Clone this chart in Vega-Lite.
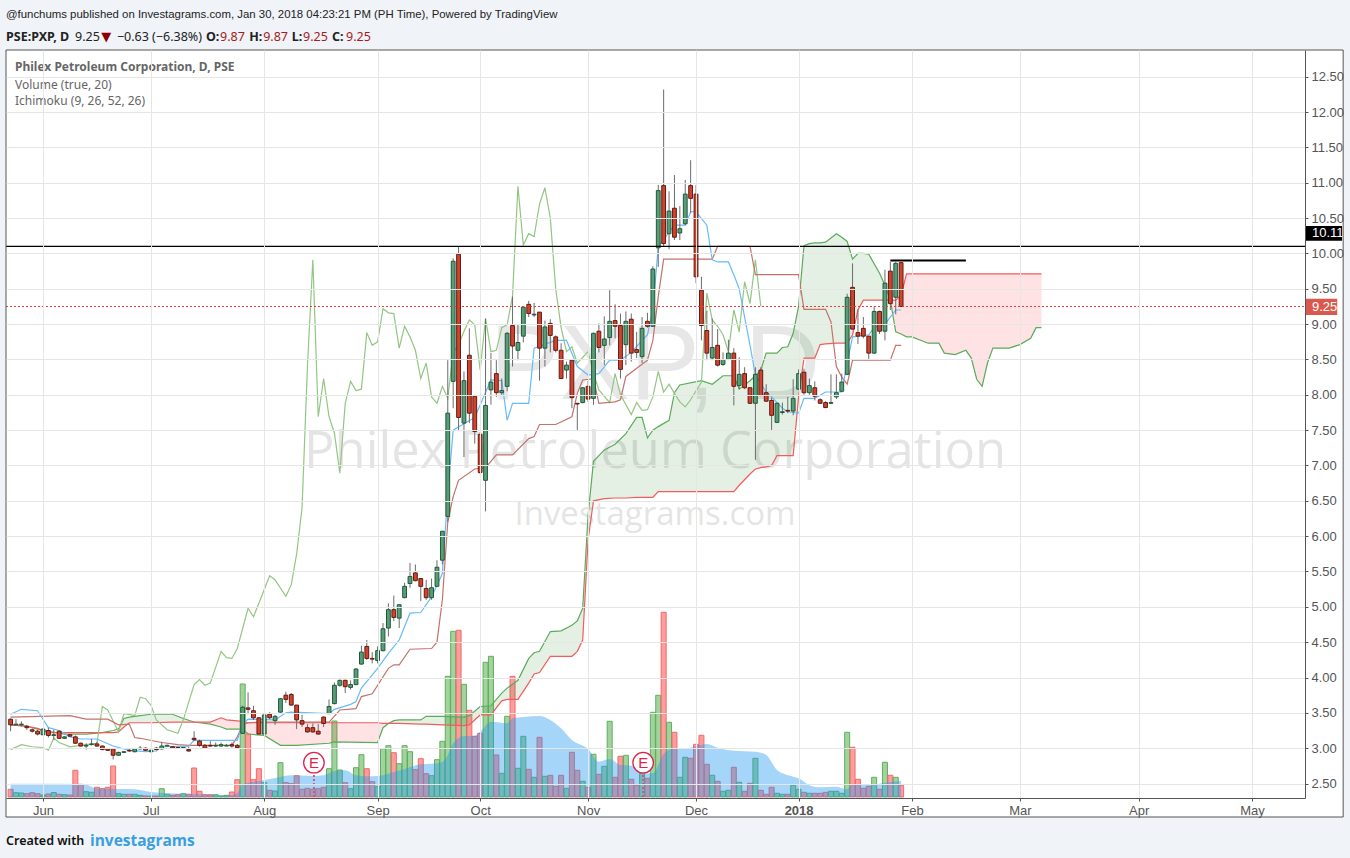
{"$schema":"https://vega.github.io/schema/vega-lite/v6.json","width":1299,"height":748,"autosize":"none","padding":{"left":6,"top":50,"right":45,"bottom":60},"background":"#f0f3f7","config":{"view":{"fill":"#ffffff","stroke":null},"font":"Liberation Sans"},
"datasets":{
"bars":[{"i":0,"o":3.41,"h":3.42,"l":3.24,"c":3.33,"v":7.7},{"i":1,"o":3.33,"h":3.41,"l":3.32,"c":3.34,"v":4.3},{"i":2,"o":3.33,"h":3.38,"l":3.31,"c":3.34,"v":4},{"i":3,"o":3.31,"h":3.33,"l":3.26,"c":3.29,"v":3.3},{"i":4,"o":3.26,"h":3.28,"l":3.22,"c":3.24,"v":4.3},{"i":5,"o":3.24,"h":3.26,"l":3.18,"c":3.2,"v":3.3},{"i":6,"o":3.19,"h":3.28,"l":3.19,"c":3.27,"v":2},{"i":7,"o":3.25,"h":3.29,"l":3.15,"c":3.18,"v":3},{"i":8,"o":3.18,"h":3.26,"l":3.12,"c":3.19,"v":4.5},{"i":9,"o":3.24,"h":3.25,"l":3.13,"c":3.14,"v":2.7},{"i":10,"o":3.14,"h":3.17,"l":3.13,"c":3.16,"v":2.3},{"i":11,"o":3.19,"h":3.2,"l":3.17,"c":3.17,"v":2},{"i":12,"o":3.16,"h":3.18,"l":3.06,"c":3.07,"v":26.7},{"i":13,"o":3.07,"h":3.08,"l":3.02,"c":3.03,"v":12.7},{"i":14,"o":3.03,"h":3.07,"l":2.98,"c":3.04,"v":5.3},{"i":15,"o":3.05,"h":3.13,"l":3.04,"c":3.06,"v":4.7},{"i":16,"o":3.06,"h":3.09,"l":3.02,"c":3.03,"v":9.7},{"i":17,"o":3.03,"h":3.04,"l":2.97,"c":2.98,"v":8.3},{"i":18,"o":2.99,"h":3,"l":2.96,"c":2.97,"v":9.7},{"i":19,"o":2.99,"h":3,"l":2.84,"c":2.9,"v":31},{"i":20,"o":2.9,"h":2.95,"l":2.89,"c":2.94,"v":3.3},{"i":21,"o":2.94,"h":2.96,"l":2.93,"c":2.95,"v":2.7},{"i":22,"o":2.97,"h":3,"l":2.95,"c":2.96,"v":2.7},{"i":23,"o":2.95,"h":3,"l":2.94,"c":2.99,"v":2.7},{"i":24,"o":2.99,"h":3.03,"l":2.98,"c":3,"v":1.7},{"i":25,"o":3,"h":3.01,"l":2.96,"c":2.97,"v":1},{"i":26,"o":2.95,"h":2.98,"l":2.94,"c":2.97,"v":1},{"i":27,"o":3,"h":3.02,"l":2.97,"c":2.98,"v":1},{"i":28,"o":2.99,"h":3.09,"l":2.98,"c":3.03,"v":8.3},{"i":29,"o":3.03,"h":3.05,"l":3.03,"c":3.04,"v":2.7},{"i":30,"o":3.02,"h":3.03,"l":3,"c":3,"v":1.7},{"i":31,"o":3.01,"h":3.02,"l":2.99,"c":3,"v":2.3},{"i":32,"o":3,"h":3.01,"l":2.99,"c":3.01,"v":3.3},{"i":33,"o":2.98,"h":3.02,"l":2.95,"c":2.96,"v":2.7},{"i":34,"o":3.14,"h":3.24,"l":3.1,"c":3.12,"v":29},{"i":35,"o":3.1,"h":3.12,"l":3.02,"c":3.04,"v":5.7},{"i":36,"o":3.04,"h":3.06,"l":3,"c":3,"v":2.3},{"i":37,"o":3.04,"h":3.1,"l":3.02,"c":3.03,"v":2.3},{"i":38,"o":3.03,"h":3.08,"l":3.02,"c":3.04,"v":2.3},{"i":39,"o":3.03,"h":3.08,"l":3.02,"c":3.05,"v":1},{"i":40,"o":3.03,"h":3.06,"l":3.03,"c":3.04,"v":1.7},{"i":41,"o":3.05,"h":3.08,"l":3.01,"c":3.03,"v":5},{"i":42,"o":3.04,"h":3.06,"l":3,"c":3.01,"v":17.3},{"i":43,"o":3.21,"h":3.6,"l":3.2,"c":3.58,"v":113},{"i":44,"o":3.57,"h":3.79,"l":3.48,"c":3.55,"v":63},{"i":45,"o":3.53,"h":3.6,"l":3.4,"c":3.43,"v":17.3},{"i":46,"o":3.43,"h":3.44,"l":3.2,"c":3.2,"v":28.3},{"i":47,"o":3.2,"h":3.49,"l":3.2,"c":3.47,"v":14.3},{"i":48,"o":3.48,"h":3.51,"l":3.41,"c":3.43,"v":6.7},{"i":49,"o":3.39,"h":3.47,"l":3.33,"c":3.45,"v":6},{"i":50,"o":3.51,"h":3.71,"l":3.5,"c":3.7,"v":34.3},{"i":51,"o":3.75,"h":3.8,"l":3.64,"c":3.69,"v":14.3},{"i":52,"o":3.76,"h":3.78,"l":3.6,"c":3.61,"v":13.3},{"i":53,"o":3.61,"h":3.61,"l":3.27,"c":3.4,"v":21.3},{"i":54,"o":3.39,"h":3.47,"l":3.3,"c":3.34,"v":7.7},{"i":55,"o":3.29,"h":3.34,"l":3.22,"c":3.23,"v":8.7},{"i":56,"o":3.29,"h":3.35,"l":3.22,"c":3.23,"v":7.7},{"i":57,"o":3.24,"h":3.34,"l":3.19,"c":3.2,"v":8.3},{"i":58,"o":3.44,"h":3.45,"l":3.3,"c":3.35,"v":9.7},{"i":59,"o":3.49,"h":3.69,"l":3.48,"c":3.59,"v":28.3},{"i":60,"o":3.63,"h":3.93,"l":3.62,"c":3.89,"v":76},{"i":61,"o":3.89,"h":3.97,"l":3.87,"c":3.96,"v":27},{"i":62,"o":3.96,"h":3.97,"l":3.78,"c":3.87,"v":14.3},{"i":63,"o":3.86,"h":3.96,"l":3.83,"c":3.9,"v":8.3},{"i":64,"o":3.9,"h":4.13,"l":3.89,"c":4.12,"v":29.3},{"i":65,"o":4.19,"h":4.45,"l":4.18,"c":4.36,"v":42.3},{"i":66,"o":4.44,"h":4.53,"l":4.25,"c":4.27,"v":28.3},{"i":67,"o":4.27,"h":4.36,"l":4.2,"c":4.26,"v":15.3},{"i":68,"o":4.24,"h":4.44,"l":4.2,"c":4.38,"v":10.3},{"i":69,"o":4.38,"h":4.77,"l":4.37,"c":4.69,"v":48.3},{"i":70,"o":4.7,"h":5.05,"l":4.58,"c":4.96,"v":51.3},{"i":71,"o":4.96,"h":5.16,"l":4.8,"c":4.85,"v":44.3},{"i":72,"o":4.84,"h":5.03,"l":4.7,"c":5.03,"v":33.3},{"i":73,"o":5.13,"h":5.34,"l":5.12,"c":5.29,"v":51.3},{"i":74,"o":5.33,"h":5.62,"l":5.27,"c":5.43,"v":45.3},{"i":75,"o":5.48,"h":5.6,"l":5.36,"c":5.37,"v":27.3},{"i":76,"o":5.4,"h":5.4,"l":5.08,"c":5.29,"v":38.3},{"i":77,"o":5.26,"h":5.38,"l":5.1,"c":5.13,"v":23.3},{"i":78,"o":5.13,"h":5.4,"l":5.1,"c":5.27,"v":21.3},{"i":79,"o":5.29,"h":5.66,"l":5.29,"c":5.56,"v":37.3},{"i":80,"o":5.66,"h":6.07,"l":5.6,"c":6.07,"v":55.7},{"i":81,"o":6.28,"h":8.49,"l":6.2,"c":7.74,"v":120.7},{"i":82,"o":8.19,"h":9.93,"l":7.81,"c":9.89,"v":165.7},{"i":83,"o":9.99,"h":10.1,"l":7.49,"c":7.68,"v":166.7},{"i":84,"o":7.6,"h":8.33,"l":7.12,"c":8.2,"v":112.7},{"i":85,"o":8.56,"h":8.94,"l":7.6,"c":7.74,"v":86.7},{"i":86,"o":7.98,"h":8,"l":7.31,"c":7.48,"v":60.7},{"i":87,"o":7.44,"h":7.47,"l":6.88,"c":6.9,"v":63.7},{"i":88,"o":6.79,"h":9.08,"l":6.35,"c":7.85,"v":134.7},{"i":89,"o":8.07,"h":8.59,"l":7.86,"c":8.18,"v":140.7},{"i":90,"o":8.3,"h":8.49,"l":7.97,"c":8.03,"v":42},{"i":91,"o":8.03,"h":8.23,"l":8,"c":8.06,"v":23.7},{"i":92,"o":8.12,"h":8.89,"l":8.05,"c":8.87,"v":80.7},{"i":93,"o":8.98,"h":9.39,"l":8.4,"c":8.69,"v":120.7},{"i":94,"o":8.63,"h":8.99,"l":8.49,"c":8.74,"v":28.7},{"i":95,"o":8.83,"h":9.24,"l":8.74,"c":9.24,"v":60.7},{"i":96,"o":9.28,"h":9.33,"l":9.1,"c":9.15,"v":27.7},{"i":97,"o":9.13,"h":9.3,"l":9.1,"c":9.14,"v":19.7},{"i":98,"o":9.17,"h":9.17,"l":8.2,"c":8.66,"v":59.7},{"i":99,"o":8.66,"h":9.05,"l":8.4,"c":8.96,"v":20.7},{"i":100,"o":9.01,"h":9.07,"l":8.6,"c":8.84,"v":21.7},{"i":101,"o":8.82,"h":8.84,"l":8.6,"c":8.63,"v":10.7},{"i":102,"o":8.63,"h":8.73,"l":8.23,"c":8.23,"v":21.7},{"i":103,"o":8.35,"h":8.47,"l":8.23,"c":8.42,"v":8.7},{"i":104,"o":8.49,"h":8.5,"l":7.81,"c":7.96,"v":44.7},{"i":105,"o":7.88,"h":7.88,"l":7.49,"c":7.87,"v":26.7},{"i":106,"o":7.89,"h":8.11,"l":7.88,"c":8.1,"v":15.7},{"i":107,"o":8.12,"h":8.2,"l":7.9,"c":7.94,"v":9.7},{"i":108,"o":7.95,"h":8.88,"l":7.86,"c":8.87,"v":42.7},{"i":109,"o":8.9,"h":9.01,"l":8.6,"c":8.67,"v":22.7},{"i":110,"o":8.7,"h":9.11,"l":8.42,"c":8.79,"v":30.7},{"i":111,"o":8.81,"h":9.48,"l":8.7,"c":9.04,"v":75.7},{"i":112,"o":9.05,"h":9.28,"l":8.8,"c":8.97,"v":19.7},{"i":113,"o":8.98,"h":9.15,"l":8.23,"c":8.36,"v":40.7},{"i":114,"o":8.71,"h":9.18,"l":8.42,"c":9.04,"v":41.7},{"i":115,"o":9.07,"h":9.15,"l":8.47,"c":8.59,"v":17.7},{"i":116,"o":8.64,"h":8.89,"l":8.52,"c":8.6,"v":11.7},{"i":117,"o":8.54,"h":9.1,"l":8.45,"c":8.94,"v":23.7},{"i":118,"o":9.04,"h":9.16,"l":8.95,"c":8.97,"v":18.7},{"i":119,"o":8.97,"h":9.82,"l":8.96,"c":9.78,"v":84.7},{"i":120,"o":10.08,"h":10.97,"l":9.81,"c":10.89,"v":101.7},{"i":121,"o":10.96,"h":12.32,"l":10.1,"c":10.14,"v":184.7},{"i":122,"o":10.28,"h":10.88,"l":10.06,"c":10.6,"v":74.7},{"i":123,"o":10.64,"h":11.11,"l":10.19,"c":10.23,"v":64.7},{"i":124,"o":10.29,"h":10.67,"l":10.19,"c":10.35,"v":19.7},{"i":125,"o":10.42,"h":11.04,"l":10.4,"c":10.84,"v":39.7},{"i":126,"o":10.96,"h":11.32,"l":10.57,"c":10.78,"v":38.7},{"i":127,"o":10.84,"h":10.97,"l":9.58,"c":9.67,"v":52.7},{"i":128,"o":9.48,"h":9.67,"l":8.77,"c":8.98,"v":61.7},{"i":129,"o":8.91,"h":9.19,"l":8.49,"c":8.59,"v":32.7},{"i":130,"o":8.52,"h":9.08,"l":8.49,"c":8.67,"v":21.7},{"i":131,"o":8.7,"h":8.93,"l":8.4,"c":8.42,"v":15.7},{"i":132,"o":8.43,"h":8.6,"l":8.41,"c":8.5,"v":5.7},{"i":133,"o":8.5,"h":8.78,"l":8.49,"c":8.59,"v":6.7},{"i":134,"o":8.59,"h":8.66,"l":7.85,"c":8.12,"v":29.7},{"i":135,"o":8.13,"h":8.53,"l":8.08,"c":8.29,"v":14.7},{"i":136,"o":8.3,"h":8.39,"l":8.08,"c":8.1,"v":5.7},{"i":137,"o":8.1,"h":8.1,"l":7.87,"c":7.88,"v":13.7},{"i":138,"o":7.88,"h":8.39,"l":7.08,"c":8.29,"v":38.7},{"i":139,"o":8.35,"h":8.39,"l":7.98,"c":7.99,"v":6.7},{"i":140,"o":8.03,"h":8.15,"l":7.9,"c":7.91,"v":2.7},{"i":141,"o":7.92,"h":7.96,"l":7.5,"c":7.71,"v":9.7},{"i":142,"o":7.61,"h":7.89,"l":7.6,"c":7.88,"v":3.7},{"i":143,"o":7.75,"h":7.89,"l":7.72,"c":7.76,"v":2.7},{"i":144,"o":7.78,"h":7.97,"l":7.74,"c":7.77,"v":2.7},{"i":145,"o":7.77,"h":8.22,"l":7.71,"c":7.95,"v":11.7},{"i":146,"o":8.08,"h":8.36,"l":8.07,"c":8.3,"v":7.7},{"i":147,"o":8.32,"h":8.37,"l":8,"c":8.03,"v":4.7},{"i":148,"o":8.03,"h":8.23,"l":8,"c":8.13,"v":3.7},{"i":149,"o":8.1,"h":8.19,"l":7.92,"c":7.98,"v":3.7},{"i":150,"o":7.93,"h":7.95,"l":7.87,"c":7.88,"v":3.7},{"i":151,"o":7.89,"h":7.91,"l":7.81,"c":7.82,"v":4.7},{"i":152,"o":7.88,"h":8.29,"l":7.87,"c":7.89,"v":5.7},{"i":153,"o":7.97,"h":8.29,"l":7.94,"c":8.03,"v":5.7},{"i":154,"o":8.05,"h":8.3,"l":8.04,"c":8.18,"v":3.7},{"i":155,"o":8.29,"h":9.43,"l":8.28,"c":9.38,"v":64.7},{"i":156,"o":9.52,"h":9.86,"l":8.92,"c":8.93,"v":49.7},{"i":157,"o":8.88,"h":9.21,"l":8.72,"c":8.83,"v":17.7},{"i":158,"o":8.94,"h":9.1,"l":8.8,"c":8.83,"v":8.7},{"i":159,"o":8.83,"h":8.83,"l":8.49,"c":8.59,"v":10.7},{"i":160,"o":8.59,"h":9.25,"l":8.58,"c":9.18,"v":19.7},{"i":161,"o":9.18,"h":9.19,"l":8.86,"c":8.9,"v":7.7},{"i":162,"o":8.9,"h":9.77,"l":8.77,"c":9.58,"v":34.7},{"i":163,"o":9.75,"h":9.88,"l":9.2,"c":9.29,"v":21.7},{"i":164,"o":9.38,"h":9.88,"l":9.14,"c":9.86,"v":19.7},{"i":165,"o":9.87,"h":9.87,"l":9.25,"c":9.25,"v":11.7}],
"ma":[{"i":0,"m":13.3},{"i":6,"m":13.3},{"i":13,"m":13},{"i":14,"m":12.5},{"i":16,"m":8.5},{"i":23,"m":7.7},{"i":26,"m":5},{"i":35,"m":2.7},{"i":40,"m":1.7},{"i":41,"m":2},{"i":42,"m":4},{"i":43,"m":12.7},{"i":46,"m":16},{"i":49,"m":19},{"i":52,"m":21.7},{"i":56,"m":21},{"i":58,"m":21.7},{"i":60,"m":26},{"i":62,"m":26.7},{"i":64,"m":21.7},{"i":66,"m":20.7},{"i":68,"m":21},{"i":71,"m":25},{"i":73,"m":28},{"i":76,"m":32.7},{"i":78,"m":33.3},{"i":80,"m":35},{"i":81,"m":42},{"i":82,"m":53.7},{"i":84,"m":61},{"i":86,"m":61.3},{"i":87,"m":65.3},{"i":89,"m":75.3},{"i":92,"m":73.7},{"i":93,"m":78.7},{"i":95,"m":80},{"i":98,"m":81},{"i":100,"m":77},{"i":102,"m":68.7},{"i":104,"m":57},{"i":107,"m":48},{"i":109,"m":35.3},{"i":111,"m":38},{"i":113,"m":32},{"i":115,"m":31.3},{"i":117,"m":23.7},{"i":119,"m":23.7},{"i":121,"m":43},{"i":123,"m":48.7},{"i":125,"m":48.7},{"i":129,"m":53},{"i":131,"m":49.3},{"i":134,"m":46.3},{"i":138,"m":45.3},{"i":140,"m":42},{"i":142,"m":27},{"i":145,"m":20.3},{"i":146,"m":18.7},{"i":148,"m":11.7},{"i":150,"m":9.7},{"i":153,"m":10.3},{"i":155,"m":7.7},{"i":156,"m":13},{"i":159,"m":12},{"i":162,"m":14.3},{"i":165,"m":16}],
"tenkan":[{"i":0,"p":3.48},{"i":2,"p":3.55},{"i":5,"p":3.53},{"i":6,"p":3.41},{"i":7,"p":3.29},{"i":9,"p":3.25},{"i":11,"p":3.16},{"i":13,"p":3.13},{"i":16,"p":3.13},{"i":19,"p":3.03},{"i":22,"p":2.97},{"i":25,"p":2.95},{"i":27,"p":2.96},{"i":28,"p":3.02},{"i":33,"p":3.03},{"i":34,"p":3.11},{"i":42,"p":3.11},{"i":43,"p":3.35},{"i":44,"p":3.41},{"i":49,"p":3.4},{"i":51,"p":3.5},{"i":52,"p":3.51},{"i":59,"p":3.49},{"i":60,"p":3.55},{"i":63,"p":3.62},{"i":64,"p":3.66},{"i":65,"p":3.85},{"i":68,"p":4.13},{"i":70,"p":4.34},{"i":72,"p":4.53},{"i":74,"p":4.91},{"i":76,"p":4.92},{"i":78,"p":5.14},{"i":80,"p":5.47},{"i":81,"p":6.6},{"i":82,"p":7.5},{"i":86,"p":7.68},{"i":89,"p":8.21},{"i":91,"p":8.2},{"i":92,"p":7.64},{"i":93,"p":7.88},{"i":96,"p":7.88},{"i":97,"p":8.66},{"i":101,"p":8.77},{"i":103,"p":8.77},{"i":105,"p":8.4},{"i":107,"p":8.28},{"i":109,"p":8.3},{"i":111,"p":8.49},{"i":113,"p":8.49},{"i":115,"p":8.6},{"i":118,"p":8.85},{"i":119,"p":9.2},{"i":120,"p":10.1},{"i":123,"p":10.4},{"i":125,"p":10.4},{"i":126,"p":10.59},{"i":127,"p":10.59},{"i":129,"p":10.4},{"i":130,"p":9.91},{"i":131,"p":9.88},{"i":133,"p":9.88},{"i":134,"p":9.7},{"i":135,"p":9.5},{"i":136,"p":9.1},{"i":137,"p":8.7},{"i":138,"p":8.28},{"i":140,"p":8.04},{"i":141,"p":7.97},{"i":143,"p":7.81},{"i":144,"p":7.76},{"i":146,"p":7.74},{"i":147,"p":7.95},{"i":149,"p":7.95},{"i":151,"p":8.04},{"i":154,"p":8.04},{"i":155,"p":8.45},{"i":156,"p":8.82},{"i":159,"p":8.85},{"i":160,"p":8.95},{"i":162,"p":9},{"i":164,"p":9.2},{"i":165,"p":9.2}],
"kijun":[{"i":0,"p":3.44},{"i":11,"p":3.46},{"i":14,"p":3.41},{"i":18,"p":3.41},{"i":20,"p":3.33},{"i":22,"p":3.34},{"i":23,"p":3.15},{"i":24,"p":3.14},{"i":28,"p":3.08},{"i":31,"p":3.05},{"i":33,"p":3.04},{"i":41,"p":3.04},{"i":42,"p":3.16},{"i":43,"p":3.33},{"i":44,"p":3.36},{"i":47,"p":3.37},{"i":59,"p":3.37},{"i":61,"p":3.54},{"i":64,"p":3.56},{"i":65,"p":3.73},{"i":67,"p":3.77},{"i":70,"p":4.13},{"i":71,"p":4.18},{"i":72,"p":4.18},{"i":74,"p":4.4},{"i":78,"p":4.41},{"i":79,"p":4.5},{"i":80,"p":5.1},{"i":81,"p":6.2},{"i":82,"p":6.56},{"i":83,"p":6.79},{"i":86,"p":6.95},{"i":88,"p":6.97},{"i":90,"p":7.15},{"i":93,"p":7.15},{"i":96,"p":7.38},{"i":97,"p":7.41},{"i":98,"p":7.58},{"i":101,"p":7.58},{"i":104,"p":7.69},{"i":105,"p":8.02},{"i":106,"p":8.21},{"i":108,"p":8.23},{"i":109,"p":7.88},{"i":112,"p":7.9},{"i":113,"p":7.93},{"i":114,"p":8.26},{"i":118,"p":8.49},{"i":119,"p":8.77},{"i":120,"p":9.39},{"i":121,"p":9.92},{"i":130,"p":9.92},{"i":131,"p":10.1},{"i":137,"p":10.1},{"i":138,"p":9.7},{"i":146,"p":9.7},{"i":147,"p":9.21},{"i":151,"p":9.21},{"i":152,"p":9.03},{"i":153,"p":8.4},{"i":154,"p":8.25},{"i":155,"p":8.15},{"i":156,"p":8.49},{"i":163,"p":8.49},{"i":164,"p":8.7},{"i":165,"p":8.7}],
"lagging":[{"i":0,"p":2.98},{"i":2,"p":3.05},{"i":4,"p":3.02},{"i":6,"p":3.01},{"i":7,"p":2.97},{"i":8,"p":3.14},{"i":9,"p":3.08},{"i":11,"p":3.02},{"i":14,"p":3.05},{"i":16,"p":3.07},{"i":17,"p":3.59},{"i":18,"p":3.54},{"i":20,"p":3.23},{"i":21,"p":3.49},{"i":23,"p":3.46},{"i":24,"p":3.72},{"i":25,"p":3.7},{"i":26,"p":3.61},{"i":27,"p":3.4},{"i":29,"p":3.26},{"i":31,"p":3.21},{"i":32,"p":3.4},{"i":34,"p":3.9},{"i":35,"p":3.97},{"i":36,"p":3.89},{"i":37,"p":3.92},{"i":39,"p":4.37},{"i":40,"p":4.28},{"i":41,"p":4.27},{"i":42,"p":4.41},{"i":44,"p":4.98},{"i":45,"p":4.86},{"i":46,"p":5.05},{"i":48,"p":5.44},{"i":49,"p":5.38},{"i":51,"p":5.15},{"i":52,"p":5.31},{"i":53,"p":5.75},{"i":54,"p":6.4},{"i":55,"p":8.4},{"i":56,"p":9.91},{"i":57,"p":7.69},{"i":58,"p":8.23},{"i":59,"p":7.69},{"i":60,"p":7.46},{"i":61,"p":6.89},{"i":62,"p":7.88},{"i":63,"p":8.19},{"i":64,"p":8.06},{"i":65,"p":8.08},{"i":66,"p":8.88},{"i":67,"p":8.7},{"i":68,"p":8.75},{"i":69,"p":9.22},{"i":70,"p":9.16},{"i":71,"p":9.15},{"i":72,"p":8.66},{"i":73,"p":8.97},{"i":74,"p":8.82},{"i":75,"p":8.63},{"i":76,"p":8.23},{"i":77,"p":8.45},{"i":78,"p":7.97},{"i":79,"p":7.88},{"i":80,"p":8.12},{"i":81,"p":7.95},{"i":82,"p":8.6},{"i":83,"p":8.71},{"i":84,"p":8.9},{"i":85,"p":9.06},{"i":86,"p":8.99},{"i":87,"p":8.35},{"i":88,"p":9.08},{"i":89,"p":8.61},{"i":90,"p":8.63},{"i":91,"p":8.95},{"i":92,"p":8.99},{"i":93,"p":9.4},{"i":94,"p":10.95},{"i":95,"p":10.12},{"i":96,"p":10.28},{"i":97,"p":10.24},{"i":98,"p":10.7},{"i":99,"p":10.93},{"i":100,"p":10.5},{"i":101,"p":9.5},{"i":102,"p":8.95},{"i":103,"p":8.61},{"i":104,"p":8.68},{"i":105,"p":8.45},{"i":107,"p":8.61},{"i":108,"p":8.3},{"i":109,"p":8.07},{"i":111,"p":7.89},{"i":112,"p":8.3},{"i":113,"p":8},{"i":115,"p":7.72},{"i":116,"p":7.89},{"i":117,"p":7.78},{"i":118,"p":7.79},{"i":119,"p":7.97},{"i":120,"p":8.33},{"i":121,"p":8.04},{"i":122,"p":8.15},{"i":123,"p":8.02},{"i":124,"p":7.9},{"i":125,"p":7.83},{"i":126,"p":7.93},{"i":128,"p":8.18},{"i":129,"p":9.44},{"i":130,"p":9.06},{"i":131,"p":8.97},{"i":132,"p":8.85},{"i":133,"p":8.61},{"i":134,"p":9.2},{"i":135,"p":8.89},{"i":136,"p":9.6},{"i":137,"p":9.29},{"i":138,"p":9.91},{"i":139,"p":9.25}],
"cloud":[{"i":0,"a":3.33,"b":3.33,"s":"f"},{"i":3,"a":3.31,"b":3.31,"s":"f"},{"i":5,"a":3.27,"b":3.28,"s":"f"},{"i":7,"a":3.24,"b":3.22,"s":"f"},{"i":10,"a":3.2,"b":3.22,"s":"f"},{"i":14,"a":3.2,"b":3.22,"s":"f"},{"i":17,"a":3.22,"b":3.22,"s":"f"},{"i":19,"a":3.25,"b":3.22,"s":"f"},{"i":20,"a":3.27,"b":3.23,"s":"u1"},{"i":21,"a":3.42,"b":3.3,"s":"u1"},{"i":22,"a":3.44,"b":3.36,"s":"u1"},{"i":23,"a":3.45,"b":3.36,"s":"u1"},{"i":26,"a":3.48,"b":3.36,"s":"u1"},{"i":30,"a":3.48,"b":3.37,"s":"u1"},{"i":32,"a":3.42,"b":3.37,"s":"u1"},{"i":34,"a":3.37,"b":3.37,"s":"u1"},{"i":34,"a":3.37,"b":3.37,"s":"d1"},{"i":37,"a":3.34,"b":3.37,"s":"d1"},{"i":39,"a":3.3,"b":3.43,"s":"d1"},{"i":40,"a":3.27,"b":3.4,"s":"d1"},{"i":43,"a":3.27,"b":3.38,"s":"d1"},{"i":44,"a":3.2,"b":3.36,"s":"d1"},{"i":47,"a":3.18,"b":3.36,"s":"d1"},{"i":50,"a":3.04,"b":3.36,"s":"d1"},{"i":53,"a":3.04,"b":3.36,"s":"d1"},{"i":59,"a":3.07,"b":3.36,"s":"d1"},{"i":60,"a":3.09,"b":3.36,"s":"d1"},{"i":68,"a":3.08,"b":3.36,"s":"d1"},{"i":69,"a":3.29,"b":3.35,"s":"d1"},{"i":70,"a":3.35,"b":3.35,"s":"d1"},{"i":70,"a":3.35,"b":3.35,"s":"u2"},{"i":71,"a":3.39,"b":3.35,"s":"u2"},{"i":72,"a":3.4,"b":3.35,"s":"u2"},{"i":76,"a":3.4,"b":3.34,"s":"u2"},{"i":77,"a":3.45,"b":3.34,"s":"u2"},{"i":80,"a":3.45,"b":3.33,"s":"u2"},{"i":84,"a":3.44,"b":3.32,"s":"u2"},{"i":85,"a":3.46,"b":3.33,"s":"u2"},{"i":87,"a":3.59,"b":3.47,"s":"u2"},{"i":89,"a":3.6,"b":3.47,"s":"u2"},{"i":91,"a":3.78,"b":3.67,"s":"u2"},{"i":92,"a":3.85,"b":3.69,"s":"u2"},{"i":94,"a":3.96,"b":3.69,"s":"u2"},{"i":96,"a":4.27,"b":3.92,"s":"u2"},{"i":97,"a":4.35,"b":4.05,"s":"u2"},{"i":98,"a":4.37,"b":4.07,"s":"u2"},{"i":100,"a":4.65,"b":4.3,"s":"u2"},{"i":102,"a":4.66,"b":4.3,"s":"u2"},{"i":104,"a":4.74,"b":4.3,"s":"u2"},{"i":105,"a":4.8,"b":4.37,"s":"u2"},{"i":106,"a":4.98,"b":4.53,"s":"u2"},{"i":107,"a":6.3,"b":5.95,"s":"u2"},{"i":108,"a":7.06,"b":6.5,"s":"u2"},{"i":110,"a":7.22,"b":6.53,"s":"u2"},{"i":112,"a":7.3,"b":6.54,"s":"u2"},{"i":114,"a":7.45,"b":6.54,"s":"u2"},{"i":116,"a":7.68,"b":6.55,"s":"u2"},{"i":117,"a":7.68,"b":6.55,"s":"u2"},{"i":118,"a":7.39,"b":6.55,"s":"u2"},{"i":119,"a":7.5,"b":6.55,"s":"u2"},{"i":120,"a":7.55,"b":6.63,"s":"u2"},{"i":122,"a":7.64,"b":6.63,"s":"u2"},{"i":123,"a":8.03,"b":6.63,"s":"u2"},{"i":124,"a":8.14,"b":6.63,"s":"u2"},{"i":128,"a":8.2,"b":6.63,"s":"u2"},{"i":130,"a":8.15,"b":6.63,"s":"u2"},{"i":132,"a":8.27,"b":6.63,"s":"u2"},{"i":134,"a":8.27,"b":6.63,"s":"u2"},{"i":135,"a":8.08,"b":6.72,"s":"u2"},{"i":137,"a":8.2,"b":6.88,"s":"u2"},{"i":138,"a":8.27,"b":6.95,"s":"u2"},{"i":139,"a":8.35,"b":6.97,"s":"u2"},{"i":140,"a":8.59,"b":6.98,"s":"u2"},{"i":141,"a":8.59,"b":7,"s":"u2"},{"i":142,"a":8.59,"b":7.14,"s":"u2"},{"i":143,"a":8.67,"b":7.14,"s":"u2"},{"i":144,"a":8.68,"b":7.14,"s":"u2"},{"i":145,"a":8.87,"b":7.14,"s":"u2"},{"i":146,"a":9.25,"b":7.97,"s":"u2"},{"i":147,"a":10.11,"b":8.52,"s":"u2"},{"i":148,"a":10.14,"b":8.52,"s":"u2"},{"i":149,"a":10.15,"b":8.52,"s":"u2"},{"i":150,"a":10.15,"b":8.71,"s":"u2"},{"i":151,"a":10.16,"b":8.72,"s":"u2"},{"i":153,"a":10.28,"b":8.73,"s":"u2"},{"i":154,"a":10.23,"b":8.73,"s":"u2"},{"i":155,"a":10.17,"b":8.73,"s":"u2"},{"i":156,"a":9.92,"b":8.85,"s":"u2"},{"i":157,"a":10,"b":9.2,"s":"u2"},{"i":158,"a":10,"b":9.34,"s":"u2"},{"i":159,"a":9.99,"b":9.34,"s":"u2"},{"i":161,"a":9.72,"b":9.34,"s":"u2"},{"i":162,"a":9.55,"b":9.34,"s":"u2"},{"i":163,"a":9.34,"b":9.34,"s":"u2"},{"i":163,"a":9.34,"b":9.34,"s":"d2"},{"i":164,"a":8.89,"b":9.34,"s":"d2"},{"i":165,"a":8.86,"b":9.41,"s":"d2"},{"i":166,"a":8.82,"b":9.71,"s":"d2"},{"i":167,"a":8.82,"b":9.71,"s":"d2"},{"i":170,"a":8.73,"b":9.71,"s":"d2"},{"i":172,"a":8.73,"b":9.71,"s":"d2"},{"i":173,"a":8.59,"b":9.71,"s":"d2"},{"i":175,"a":8.57,"b":9.71,"s":"d2"},{"i":177,"a":8.63,"b":9.71,"s":"d2"},{"i":178,"a":8.52,"b":9.71,"s":"d2"},{"i":179,"a":8.22,"b":9.71,"s":"d2"},{"i":180,"a":8.12,"b":9.71,"s":"d2"},{"i":181,"a":8.45,"b":9.71,"s":"d2"},{"i":182,"a":8.66,"b":9.71,"s":"d2"},{"i":185,"a":8.66,"b":9.71,"s":"d2"},{"i":187,"a":8.71,"b":9.71,"s":"d2"},{"i":189,"a":8.8,"b":9.71,"s":"d2"},{"i":190,"a":8.95,"b":9.71,"s":"d2"},{"i":191,"a":8.95,"b":9.71,"s":"d2"}],
"labels":[{"k":"head","t":"@funchums published on Investagrams.com, Jan 30, 2018 04:23:21 PM (PH Time), Powered by TradingView","i":-0.85,"p":13.375},{"k":"bold","t":"PSE:PXP, D","i":-0.85,"p":13.063},{"k":"norm","t":"9.25","i":11.93,"p":13.063},{"k":"tri","t":"▼","i":16.8,"p":13.063},{"k":"norm","t":"−0.63 (−6.38%)","i":19.7,"p":13.063},{"k":"bold","t":"O:","i":36.2,"p":13.063},{"k":"red","t":"9.87","i":38.8,"p":13.063},{"k":"bold","t":"H:","i":44.2,"p":13.063},{"k":"red","t":"9.87","i":46.8,"p":13.063},{"k":"bold","t":"L:","i":52.1,"p":13.063},{"k":"red","t":"9.25","i":54.2,"p":13.063},{"k":"bold","t":"C:","i":59.55,"p":13.063},{"k":"red","t":"9.25","i":62.15,"p":13.063},{"k":"legb","t":"Philex Petroleum Corporation, D, PSE","i":0.82,"p":12.639},{"k":"leg","t":"Volume (true, 20)","i":0.82,"p":12.384},{"k":"leg","t":"Ichimoku (9, 26, 52, 26)","i":0.82,"p":12.157},{"k":"w1","t":"PXP, D","i":119.4,"p":8.39},{"k":"w2","t":"Philex Petroleum Corporation","i":119.4,"p":7.177},{"k":"w3","t":"Investagrams.com","i":119.4,"p":6.3},{"k":"made","t":"Created with","i":-0.85,"p":1.686},{"k":"logo","t":"investagrams","i":14.7,"p":1.686}],
"panel":[{"n":"right","i":239.83,"i2":246.9,"p":12.879,"p2":2.026},{"n":"bottom","i":-0.852,"i2":239.83,"p":2.295,"p2":2.026}],
"frame":[{"i":-0.852,"i2":246.9,"p":12.879,"p2":2.026}],
"tags":[{"t":"10.11","i":239.83,"i2":246.7,"p":10.39,"p2":10.18,"m":10.285,"k":"last"},{"t":"9.25","i":239.83,"i2":245.8,"p":9.36,"p2":9.13,"m":9.245,"k":"close"}],
"levels":[{"i":-0.852,"i2":239.83,"p":10.1,"k":"resistance"},{"i":-0.852,"i2":239.83,"p":9.25,"k":"close"}],
"seg":[{"i":163,"i2":177,"p":9.9}],
"events":[{"i":56.2,"v":34.3,"r":23,"t":"E"},{"i":117.2,"v":34.3,"r":23,"t":"E"}]
},
"encoding":{"x":{"field":"i","type":"quantitative","scale":{"domain":[-0.852,239.83],"nice":false,"zero":false,"padding":0},"axis":{"title":null,"values":[6,26,47,68,87,107,127,146,167,187,209,230],"labelExpr":"datum.value==6?'Jun':datum.value==26?'Jul':datum.value==47?'Aug':datum.value==68?'Sep':datum.value==87?'Oct':datum.value==107?'Nov':datum.value==127?'Dec':datum.value==146?'2018':datum.value==167?'Feb':datum.value==187?'Mar':datum.value==209?'Apr':'May'","labelFont":"Liberation Sans","labelFontSize":13,"labelColor":"#555555","labelPadding":3,"labelFontWeight":{"condition":{"test":"datum.value==146","value":"bold"},"value":"normal"},"tickSize":3,"tickColor":"#555555","domainColor":"#555555","grid":true,"gridColor":"#e6e6e6","gridWidth":1,"zindex":1,"labelOverlap":false,"labelFlush":false}}},
"resolve":{"scale":{"y":"independent"}},
"layer":[
{"data":{"name":"levels"},"mark":{"type":"rule","opacity":0},"encoding":{"x2":{"field":"i2"},"y":{"field":"p","type":"quantitative","scale":{"domain":[2.295,12.879],"nice":false,"zero":false},"axis":{"title":null,"orient":"right","values":[2.5,3,3.5,4,4.5,5,5.5,6,6.5,7,7.5,8,8.5,9,9.5,10,10.5,11,11.5,12,12.5],"format":".2f","labelFont":"Liberation Sans","labelFontSize":13,"labelColor":"#555555","labelPadding":3,"tickSize":3,"tickColor":"#555555","domainColor":"#555555","grid":true,"gridColor":"#e6e6e6","gridWidth":1,"zindex":1,"labelOverlap":false,"labelFlush":false}}}},
{"encoding":{"y":{"field":"v","type":"quantitative","scale":{"domain":[-1,747],"nice":false,"zero":false},"axis":null,"stack":null}},
"layer":[
{"data":{"name":"bars"},"mark":{"type":"bar","orient":"vertical","size":5,"strokeWidth":1,"clip":true},"encoding":{"y":{"field":"v","type":"quantitative","scale":{"domain":[-1,747],"nice":false,"zero":false},"axis":null,"stack":null},"fill":{"condition":{"test":"datum.c<datum.o","value":"rgba(255,60,60,0.5)"},"value":"rgba(70,168,60,0.5)"},"stroke":{"condition":{"test":"datum.c<datum.o","value":"#f06a6a"},"value":"#5fae5f"}}},
{"data":{"name":"ma"},"mark":{"type":"area","interpolate":"monotone","color":"#2196f3","opacity":0.4},"encoding":{"y":{"field":"m","type":"quantitative","scale":{"domain":[-1,747],"nice":false,"zero":false},"axis":null,"stack":null}}},
{"data":{"name":"events"},"mark":{"type":"rule","color":"#d9537f","strokeDash":[2,2],"strokeWidth":2},"encoding":{"y":{"datum":0,"type":"quantitative","scale":{"domain":[-1,747],"nice":false,"zero":false},"axis":null},"y2":{"field":"r"}}},
{"data":{"name":"events"},"mark":{"type":"point","filled":false,"fill":"#ffffff","fillOpacity":1,"stroke":"#e0234e","strokeWidth":1.3,"size":420,"opacity":1},"encoding":{"y":{"field":"v","type":"quantitative","scale":{"domain":[-1,747],"nice":false,"zero":false},"axis":null,"stack":null}}},
{"data":{"name":"events"},"mark":{"type":"text","color":"#e0234e","fontSize":15,"font":"Liberation Sans","align":"center","baseline":"middle"},"encoding":{"y":{"field":"v","type":"quantitative","scale":{"domain":[-1,747],"nice":false,"zero":false},"axis":null,"stack":null},"text":{"field":"t"}}}
]},
{"layer":[
{"data":{"name":"panel"},"mark":{"type":"rect","color":"#ffffff","clip":false},"encoding":{"x":{"field":"i","type":"quantitative"},"x2":{"field":"i2"},"y":{"field":"p","type":"quantitative","scale":{"domain":[2.295,12.879],"nice":false,"zero":false},"axis":null},"y2":{"field":"p2"}}},
{"data":{"name":"labels"},"transform":[{"filter":"datum.k=='w1'"}],"mark":{"type":"text","font":"Liberation Sans","fontSize":105,"color":"#000000","opacity":0.09,"align":"center","baseline":"middle"},"encoding":{"y":{"field":"p","type":"quantitative","scale":{"domain":[2.295,12.879],"nice":false,"zero":false},"axis":null},"text":{"field":"t"}}},
{"data":{"name":"labels"},"transform":[{"filter":"datum.k=='w2'"}],"mark":{"type":"text","font":"Open Sans","fontSize":50.7,"color":"#000000","opacity":0.1,"align":"center","baseline":"middle"},"encoding":{"y":{"field":"p","type":"quantitative","scale":{"domain":[2.295,12.879],"nice":false,"zero":false},"axis":null},"text":{"field":"t"}}},
{"data":{"name":"labels"},"transform":[{"filter":"datum.k=='w3'"}],"mark":{"type":"text","font":"Open Sans","fontSize":33,"color":"#000000","opacity":0.1,"align":"center","baseline":"middle"},"encoding":{"y":{"field":"p","type":"quantitative","scale":{"domain":[2.295,12.879],"nice":false,"zero":false},"axis":null},"text":{"field":"t"}}},
{"data":{"name":"cloud"},"transform":[{"filter":"datum.s!='f'"}],"mark":{"type":"area","opacity":1},"encoding":{"y":{"field":"a","type":"quantitative","scale":{"domain":[2.295,12.879],"nice":false,"zero":false},"axis":null,"stack":null},"y2":{"field":"b"},"detail":{"field":"s"},"fill":{"condition":{"test":"indexof(datum.s,'u')==0","value":"rgba(0,110,0,0.1)"},"value":"rgba(255,30,50,0.13)"}}},
{"data":{"name":"cloud"},"mark":{"type":"line","color":"#5aab5a","strokeWidth":1.2},"encoding":{"y":{"field":"a","type":"quantitative","scale":{"domain":[2.295,12.879],"nice":false,"zero":false},"axis":null}}},
{"data":{"name":"cloud"},"mark":{"type":"line","color":"#f25c5c","strokeWidth":1.2},"encoding":{"y":{"field":"b","type":"quantitative","scale":{"domain":[2.295,12.879],"nice":false,"zero":false},"axis":null}}},
{"data":{"name":"lagging"},"mark":{"type":"line","color":"#93c683","strokeWidth":1.2},"encoding":{"y":{"field":"p","type":"quantitative","scale":{"domain":[2.295,12.879],"nice":false,"zero":false},"axis":null}}},
{"data":{"name":"kijun"},"mark":{"type":"line","color":"#c4726c","strokeWidth":1.2},"encoding":{"y":{"field":"p","type":"quantitative","scale":{"domain":[2.295,12.879],"nice":false,"zero":false},"axis":null}}},
{"data":{"name":"tenkan"},"mark":{"type":"line","color":"#66bbfb","strokeWidth":1.2},"encoding":{"y":{"field":"p","type":"quantitative","scale":{"domain":[2.295,12.879],"nice":false,"zero":false},"axis":null}}},
{"data":{"name":"bars"},"mark":{"type":"rule","color":"#6b6b6b","strokeWidth":1},"encoding":{"y":{"field":"l","type":"quantitative","scale":{"domain":[2.295,12.879],"nice":false,"zero":false},"axis":null},"y2":{"field":"h"}}},
{"data":{"name":"bars"},"mark":{"type":"bar","orient":"vertical","size":3.8,"strokeWidth":1},"encoding":{"y":{"field":"o","type":"quantitative","scale":{"domain":[2.295,12.879],"nice":false,"zero":false},"axis":null,"stack":null},"y2":{"field":"c"},"fill":{"condition":{"test":"datum.c<datum.o","value":"#d1432f"},"value":"#5b9c78"},"stroke":{"condition":{"test":"datum.c<datum.o","value":"#611a10"},"value":"#1c5a3a"}}},
{"data":{"name":"levels"},"transform":[{"filter":"datum.k=='resistance'"}],"mark":{"type":"rule","color":"#000000","strokeWidth":1.2},"encoding":{"x2":{"field":"i2"},"y":{"field":"p","type":"quantitative","scale":{"domain":[2.295,12.879],"nice":false,"zero":false},"axis":null}}},
{"data":{"name":"levels"},"transform":[{"filter":"datum.k=='close'"}],"mark":{"type":"rule","color":"#e2402f","strokeWidth":1,"strokeDash":[2,2]},"encoding":{"x2":{"field":"i2"},"y":{"field":"p","type":"quantitative","scale":{"domain":[2.295,12.879],"nice":false,"zero":false},"axis":null}}},
{"data":{"name":"seg"},"mark":{"type":"rule","color":"#000000","strokeWidth":2},"encoding":{"x2":{"field":"i2"},"y":{"field":"p","type":"quantitative","scale":{"domain":[2.295,12.879],"nice":false,"zero":false},"axis":null}}},
{"data":{"name":"tags"},"mark":{"type":"rect","clip":false},"encoding":{"x2":{"field":"i2"},"y":{"field":"p","type":"quantitative","scale":{"domain":[2.295,12.879],"nice":false,"zero":false},"axis":null},"y2":{"field":"p2"},"fill":{"condition":{"test":"datum.k=='last'","value":"#000000"},"value":"#d9594c"}}},
{"data":{"name":"tags"},"mark":{"type":"text","color":"#ffffff","font":"Liberation Sans","fontSize":13,"align":"left","baseline":"middle","dx":7},"encoding":{"y":{"field":"m","type":"quantitative","scale":{"domain":[2.295,12.879],"nice":false,"zero":false},"axis":null},"text":{"field":"t"}}},
{"data":{"name":"frame"},"mark":{"type":"rect","fillOpacity":0,"fill":"#ffffff","stroke":"#555555","strokeWidth":1,"clip":false},"encoding":{"x2":{"field":"i2"},"y":{"field":"p","type":"quantitative","scale":{"domain":[2.295,12.879],"nice":false,"zero":false},"axis":null},"y2":{"field":"p2"}}},
{"data":{"name":"labels"},"transform":[{"filter":"datum.k=='head'"}],"mark":{"type":"text","font":"Liberation Sans","fontSize":11.4,"color":"#222222","align":"left","baseline":"middle"},"encoding":{"y":{"field":"p","type":"quantitative","scale":{"domain":[2.295,12.879],"nice":false,"zero":false},"axis":null},"text":{"field":"t"}}},
{"data":{"name":"labels"},"transform":[{"filter":"datum.k=='bold'"}],"mark":{"type":"text","font":"Noto Sans","fontSize":12.5,"fontWeight":"bold","color":"#222222","align":"left","baseline":"middle"},"encoding":{"y":{"field":"p","type":"quantitative","scale":{"domain":[2.295,12.879],"nice":false,"zero":false},"axis":null},"text":{"field":"t"}}},
{"data":{"name":"labels"},"transform":[{"filter":"datum.k=='norm'"}],"mark":{"type":"text","font":"Noto Sans","fontSize":12.5,"color":"#222222","align":"left","baseline":"middle"},"encoding":{"y":{"field":"p","type":"quantitative","scale":{"domain":[2.295,12.879],"nice":false,"zero":false},"axis":null},"text":{"field":"t"}}},
{"data":{"name":"labels"},"transform":[{"filter":"datum.k=='red'"}],"mark":{"type":"text","font":"Noto Sans","fontSize":12.5,"color":"#a51c1c","align":"left","baseline":"middle"},"encoding":{"y":{"field":"p","type":"quantitative","scale":{"domain":[2.295,12.879],"nice":false,"zero":false},"axis":null},"text":{"field":"t"}}},
{"data":{"name":"labels"},"transform":[{"filter":"datum.k=='tri'"}],"mark":{"type":"text","font":"DejaVu Sans","fontSize":13,"color":"#8b0000","align":"left","baseline":"middle"},"encoding":{"y":{"field":"p","type":"quantitative","scale":{"domain":[2.295,12.879],"nice":false,"zero":false},"axis":null},"text":{"field":"t"}}},
{"data":{"name":"labels"},"transform":[{"filter":"datum.k=='legb'"}],"mark":{"type":"text","font":"Noto Sans","fontSize":12,"fontWeight":"bold","color":"#666666","align":"left","baseline":"middle"},"encoding":{"y":{"field":"p","type":"quantitative","scale":{"domain":[2.295,12.879],"nice":false,"zero":false},"axis":null},"text":{"field":"t"}}},
{"data":{"name":"labels"},"transform":[{"filter":"datum.k=='leg'"}],"mark":{"type":"text","font":"Noto Sans","fontSize":12,"color":"#666666","align":"left","baseline":"middle"},"encoding":{"y":{"field":"p","type":"quantitative","scale":{"domain":[2.295,12.879],"nice":false,"zero":false},"axis":null},"text":{"field":"t"}}},
{"data":{"name":"labels"},"transform":[{"filter":"datum.k=='made'"}],"mark":{"type":"text","font":"Noto Sans","fontSize":12.5,"fontWeight":600,"color":"#111111","align":"left","baseline":"middle"},"encoding":{"y":{"field":"p","type":"quantitative","scale":{"domain":[2.295,12.879],"nice":false,"zero":false},"axis":null},"text":{"field":"t"}}},
{"data":{"name":"labels"},"transform":[{"filter":"datum.k=='logo'"}],"mark":{"type":"text","font":"Open Sans","fontSize":15.5,"fontWeight":"bold","color":"#3a9fe0","align":"left","baseline":"middle"},"encoding":{"y":{"field":"p","type":"quantitative","scale":{"domain":[2.295,12.879],"nice":false,"zero":false},"axis":null},"text":{"field":"t"}}}
]}
]}
